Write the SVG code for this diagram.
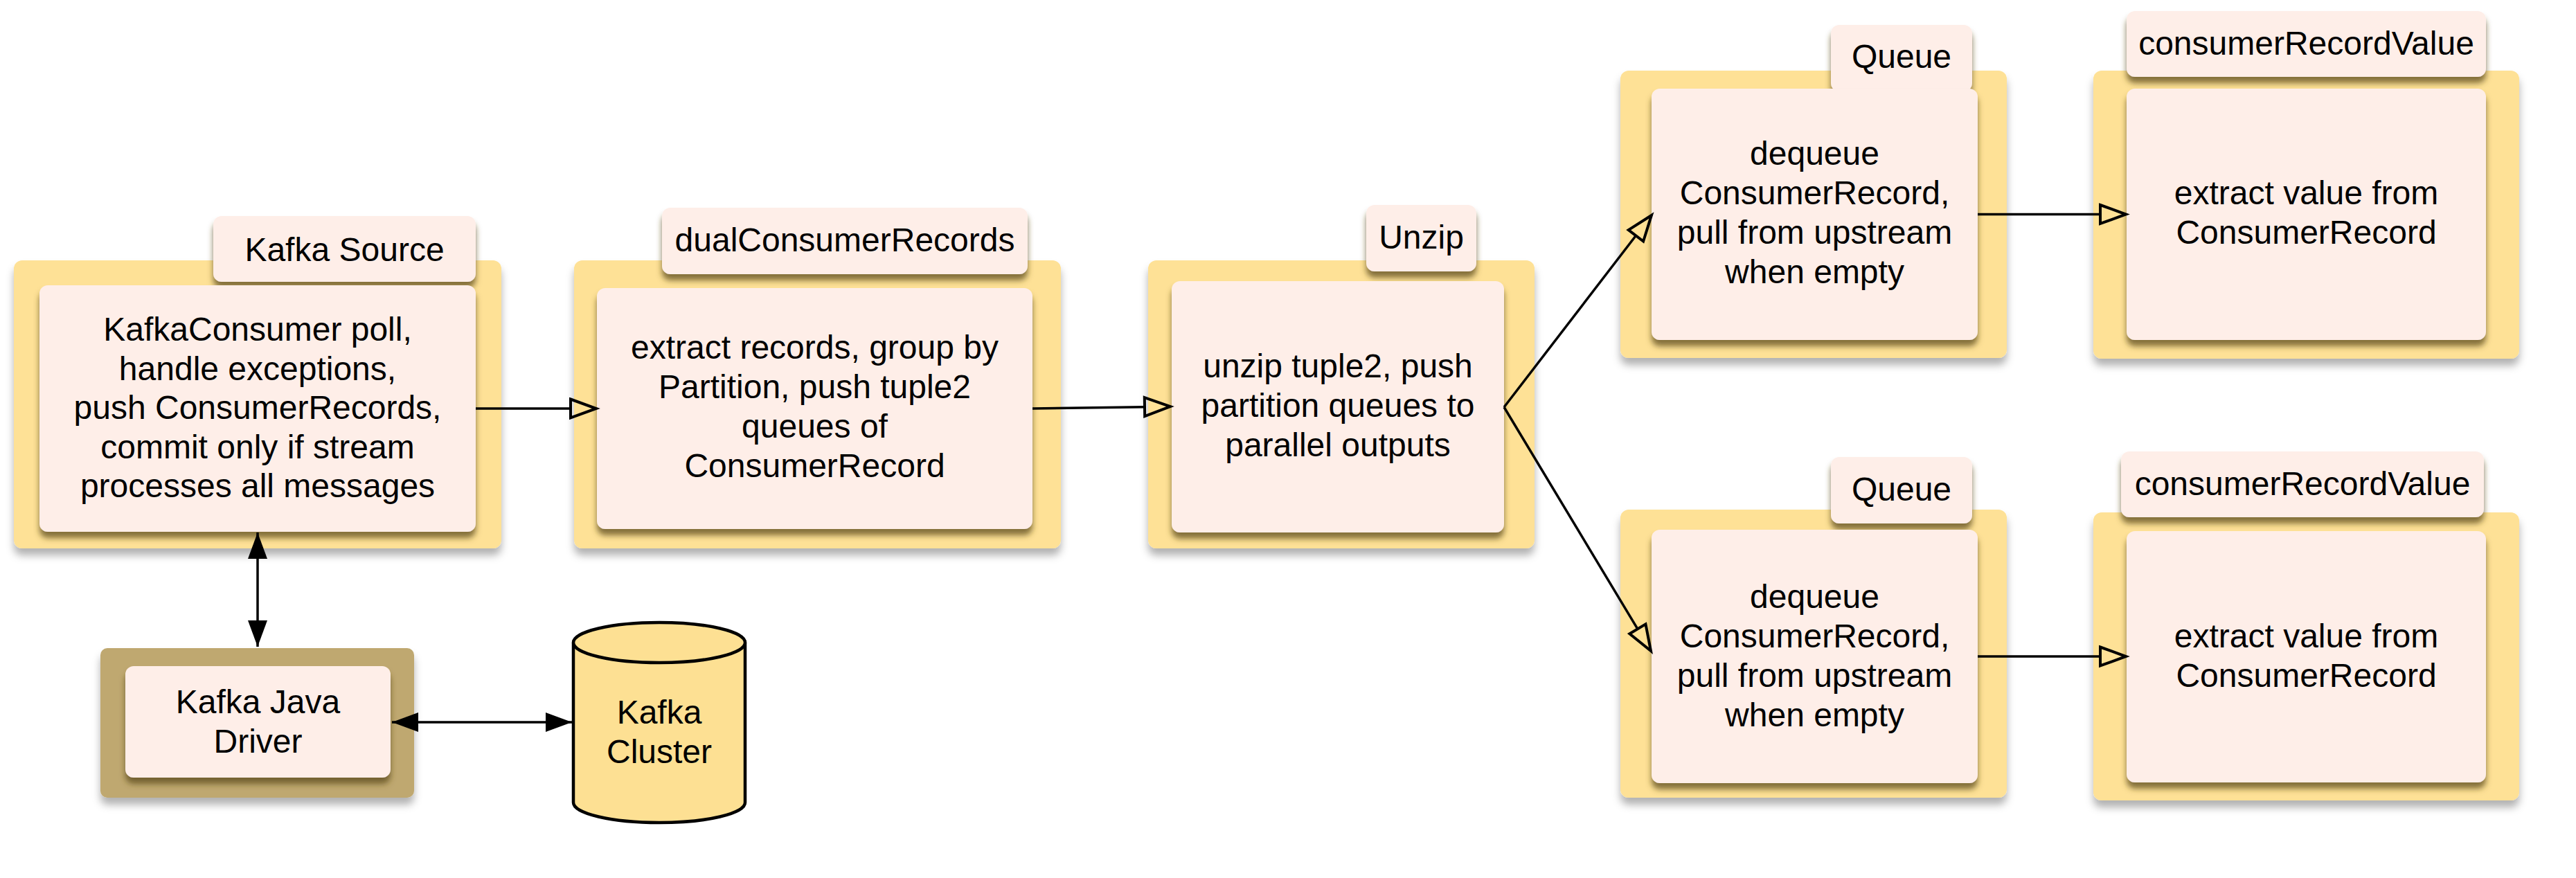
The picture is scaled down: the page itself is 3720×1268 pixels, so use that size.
<svg xmlns="http://www.w3.org/2000/svg" width="3720" height="1268" viewBox="0 0 3720 1268">
<style>
.outer{fill:#FEE196;filter:url(#shOuter)}
.drv{fill:#BFA870;filter:url(#shOuter)}
.inner{fill:#FEEEE8;filter:url(#shInner)}
.lbl{fill:#FEEEE8;filter:url(#shInner)}
text{font-family:"Liberation Sans",Arial,Helvetica,sans-serif;font-size:48px;fill:#000;text-anchor:middle}
.conn{fill:none;stroke:#000;stroke-width:3.5}
.cyl{fill:#FDE093;stroke:#000;stroke-width:4.5}
</style>
<defs>
<filter id="shOuter" x="-10%" y="-10%" width="120%" height="130%">
<feDropShadow dx="0" dy="10" stdDeviation="6" flood-color="#000" flood-opacity="0.3"/>
</filter>
<filter id="shInner" x="-10%" y="-10%" width="120%" height="130%">
<feDropShadow dx="0" dy="9" stdDeviation="4" flood-color="#5b4a1e" flood-opacity="0.75"/>
</filter>
<marker id="open" markerUnits="userSpaceOnUse" markerWidth="50" markerHeight="40" viewBox="-5 -20 50 40" refX="0" refY="0" orient="auto" overflow="visible">
<path d="M0,-13.5 L37,0 L0,13.5 Z" fill="none" stroke="#000" stroke-width="4"/>
</marker>
<marker id="filled" markerUnits="userSpaceOnUse" markerWidth="44" markerHeight="34" viewBox="0 -17 44 34" refX="38" refY="0" orient="auto-start-reverse" overflow="visible">
<path d="M0,-14 L38,0 L0,14 Z" fill="#000"/>
</marker>
</defs>

<g id="kafka-source">
<rect class="outer" x="20" y="376" width="704" height="416" rx="12"/>
<rect class="lbl" x="308" y="312" width="379" height="95" rx="12"/>
<text x="497.5" y="377">Kafka Source</text>
<rect class="inner" x="57" y="412" width="630" height="356" rx="12"/>
<text x="372" y="492">KafkaConsumer poll,</text>
<text x="372" y="549">handle exceptions,</text>
<text x="372" y="605">push ConsumerRecords,</text>
<text x="372" y="662">commit only if stream</text>
<text x="372" y="718">processes all messages</text>
</g>

<g id="dual-consumer-records">
<rect class="outer" x="829" y="376" width="703" height="416" rx="12"/>
<rect class="lbl" x="956" y="300" width="528" height="96" rx="12"/>
<text x="1220" y="363">dualConsumerRecords</text>
<rect class="inner" x="862" y="416" width="629" height="348" rx="12"/>
<text x="1176.5" y="518">extract records, group by</text>
<text x="1176.5" y="575">Partition, push tuple2</text>
<text x="1176.5" y="632">queues of</text>
<text x="1176.5" y="689">ConsumerRecord</text>
</g>

<g id="unzip">
<rect class="outer" x="1658" y="376" width="558" height="416" rx="12"/>
<rect class="lbl" x="1973" y="296" width="159" height="96" rx="12"/>
<text x="2052.5" y="359">Unzip</text>
<rect class="inner" x="1692" y="406" width="480" height="363" rx="12"/>
<text x="1932" y="545">unzip tuple2, push</text>
<text x="1932" y="602">partition queues to</text>
<text x="1932" y="659">parallel outputs</text>
</g>

<g id="queue-1">
<rect class="outer" x="2340" y="102" width="558" height="415" rx="12"/>
<rect class="lbl" x="2644" y="36" width="204" height="96" rx="12"/>
<text x="2746" y="98">Queue</text>
<rect class="inner" x="2385" y="128" width="471" height="363" rx="12"/>
<text x="2620.5" y="238">dequeue</text>
<text x="2620.5" y="295">ConsumerRecord,</text>
<text x="2620.5" y="352">pull from upstream</text>
<text x="2620.5" y="409">when empty</text>
</g>

<g id="consumer-record-value-1">
<rect class="outer" x="3023" y="102" width="615" height="416" rx="12"/>
<rect class="lbl" x="3071" y="16" width="519" height="95" rx="12"/>
<text x="3330.5" y="79">consumerRecordValue</text>
<rect class="inner" x="3071" y="128" width="519" height="363" rx="12"/>
<text x="3330.5" y="295">extract value from</text>
<text x="3330.5" y="352">ConsumerRecord</text>
</g>

<g id="queue-2">
<rect class="outer" x="2340" y="736" width="558" height="416" rx="12"/>
<rect class="lbl" x="2644" y="660" width="204" height="96" rx="12"/>
<text x="2746" y="723">Queue</text>
<rect class="inner" x="2385" y="765" width="471" height="366" rx="12"/>
<text x="2620.5" y="878">dequeue</text>
<text x="2620.5" y="935">ConsumerRecord,</text>
<text x="2620.5" y="992">pull from upstream</text>
<text x="2620.5" y="1049">when empty</text>
</g>

<g id="consumer-record-value-2">
<rect class="outer" x="3023" y="740" width="615" height="416" rx="12"/>
<rect class="lbl" x="3063" y="652" width="524" height="95" rx="12"/>
<text x="3325" y="715">consumerRecordValue</text>
<rect class="inner" x="3071" y="767" width="519" height="363" rx="12"/>
<text x="3330.5" y="935">extract value from</text>
<text x="3330.5" y="992">ConsumerRecord</text>
</g>

<g id="kafka-java-driver">
<rect class="drv" x="145" y="936" width="453" height="216" rx="10"/>
<rect class="inner" x="181" y="962" width="383" height="161" rx="12"/>
<text x="372.5" y="1030">Kafka Java</text>
<text x="372.5" y="1087">Driver</text>
</g>

<g id="kafka-cluster">
<path class="cyl" d="M828,928 V1159 A124,29 0 0 0 1076,1159 V928"/>
<ellipse class="cyl" cx="952" cy="928" rx="124" ry="29"/>
<text x="952" y="1045">Kafka</text>
<text x="952" y="1102">Cluster</text>
</g>

<g id="connectors">
<path class="conn" d="M687,590 L824,590" marker-end="url(#open)"/>
<path class="conn" d="M1491,590 L1653,587.7" marker-end="url(#open)"/>
<path class="conn" d="M2172,588 L2362.4,340.3" marker-end="url(#open)"/>
<path class="conn" d="M2172,588 L2364.9,908.3" marker-end="url(#open)"/>
<path class="conn" d="M2856,309.5 L3033,309.5" marker-end="url(#open)"/>
<path class="conn" d="M2856,948 L3033,948" marker-end="url(#open)"/>
<path class="conn" d="M372,769 L372,934" marker-start="url(#filled)" marker-end="url(#filled)"/>
<path class="conn" d="M566,1043 L826,1043" marker-start="url(#filled)" marker-end="url(#filled)"/>
</g>
</svg>
